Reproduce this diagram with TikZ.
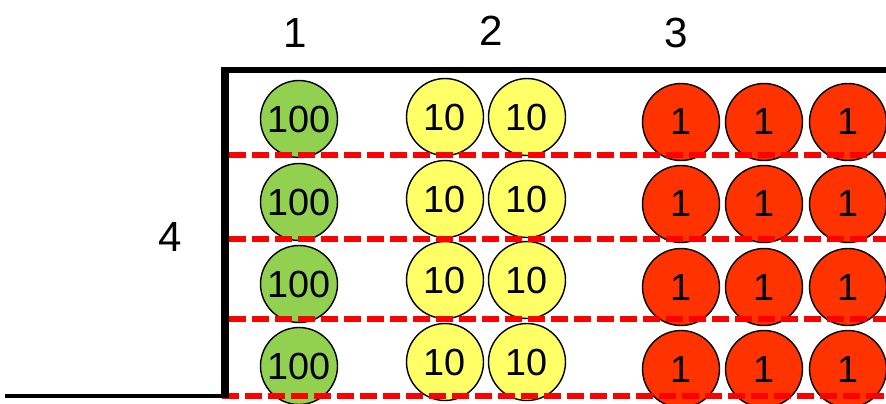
\documentclass[tikz,border=0pt]{standalone}
\usepackage{fontspec}
\setmainfont{Liberation Sans}
\definecolor{coingreen}{RGB}{146,208,80}
\definecolor{coinyellow}{RGB}{255,255,102}
\definecolor{coinred}{RGB}{255,51,0}
\definecolor{rowred}{RGB}{255,0,0}
\begin{document}
\begin{tikzpicture}[x=0.02cm, y=-0.02cm,
    coin/.style={draw, circle, line width=0.8pt, minimum size=1.54cm, inner sep=0pt, font=\fontsize{21.5}{21.5}\selectfont},
    hundred/.style={coin, fill=coingreen},
    ten/.style={coin, fill=coinyellow},
    one/.style={coin, fill=coinred},
    rowline/.style={draw=rowred, line width=3.3pt, dash pattern=on 9.7pt off 3.4pt},
    digit/.style={font=\fontsize{24}{24}\selectfont}]
    \useasboundingbox (0,0) rectangle (886,403);
    \clip (0,0) rectangle (886,403);

    % Labels
    \node[digit] (c1) at (295,33) {1};
    \node[digit] (c2) at (491,31) {2};
    \node[digit] (c3) at (676,33) {3};
    \node[digit] (r4) at (170,237) {4};

    % Coins
    \node[hundred] (g1) at (299,119) {100};
    \node[ten] (y1a) at (445,117) {10};
    \node[ten] (y1b) at (527,117) {10};
    \node[one] (r1a) at (681,122) {1};
    \node[one] (r1b) at (764,122) {1};
    \node[one] (r1c) at (848,122) {1};

    \node[hundred] (g2) at (299,202) {100};
    \node[ten] (y2a) at (445,199) {10};
    \node[ten] (y2b) at (527,199) {10};
    \node[one] (r2a) at (681,204) {1};
    \node[one] (r2b) at (764,204) {1};
    \node[one] (r2c) at (848,204) {1};

    \node[hundred] (g3) at (299,284) {100};
    \node[ten] (y3a) at (445,280) {10};
    \node[ten] (y3b) at (527,280) {10};
    \node[one] (r3a) at (681,287) {1};
    \node[one] (r3b) at (764,287) {1};
    \node[one] (r3c) at (848,287) {1};

    \node[hundred] (g4) at (299,366) {100};
    \node[ten] (y4a) at (445,362) {10};
    \node[ten] (y4b) at (527,362) {10};
    \node[one] (r4a) at (681,369) {1};
    \node[one] (r4b) at (764,369) {1};
    \node[one] (r4c) at (848,369) {1};

    % Row lines
    \coordinate (d1l) at (229,155);
    \coordinate (d1r) at (886,155);
    \coordinate (d2l) at (229,239);
    \coordinate (d2r) at (886,239);
    \coordinate (d3l) at (229,319);
    \coordinate (d3r) at (886,319);
    \coordinate (d4l) at (222,396);
    \coordinate (d4r) at (886,396);
    \path[rowline] (d1l) -- (d1r);
    \path[rowline] (d2l) -- (d2r);
    \path[rowline] (d3l) -- (d3r);
    \path[rowline] (d4l) -- (d4r);

    % Frame
    \coordinate (floor) at (5,396);
    \coordinate (corner) at (225,398);
    \coordinate (topleft) at (221,70);
    \coordinate (topright) at (886,70);
    \coordinate (barbottom) at (225,398);
    \coordinate (bartop) at (225,67);
    \draw[line width=2.4pt] (floor) -- (corner |- floor);
    \draw[line width=3.4pt] (topleft) -- (topright);
    \draw[line width=5pt] (bartop) -- (barbottom);
\end{tikzpicture}
\end{document}
